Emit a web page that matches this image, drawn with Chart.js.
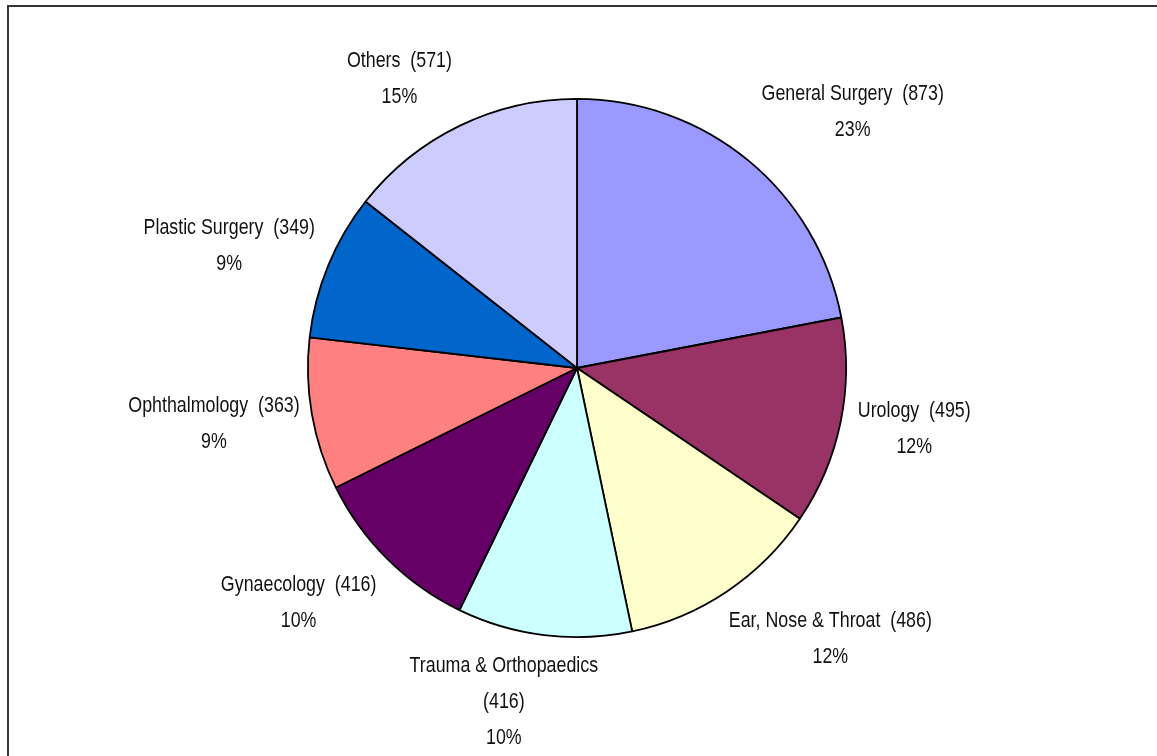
<!DOCTYPE html>
<html>
<head>
<meta charset="utf-8">
<script src="https://cdn.jsdelivr.net/npm/chart.js@4"></script>
<style>
  html,body{margin:0;padding:0;background:#fff;overflow:hidden;}
  #frame{position:absolute;left:7px;top:5px;width:1200px;height:800px;border-left:2px solid #333;border-top:2px solid #333;}
  #pie{position:absolute;left:0;top:0;}
</style>
</head>
<body>
<div id="frame"></div>
<canvas id="pie" width="1157" height="756"></canvas>
<script>
const specialties = ["General Surgery","Urology","Ear, Nose & Throat","Trauma & Orthopaedics","Gynaecology","Ophthalmology","Plastic Surgery","Others"];
const cases = [873,495,486,416,416,363,349,571];
const pctLabels = ["23%","12%","12%","10%","10%","9%","9%","15%"];
const sliceColors = ["#9999FF","#993366","#FFFFCC","#CCFFFF","#660066","#FF8080","#0066CC","#CCCCFF"];

// label text lines (Trauma wraps onto its own line for the count)
const labelLines = specialties.map((s,i)=>{
  const n = "("+cases[i]+")";
  return s==="Trauma & Orthopaedics" ? [s, n, pctLabels[i]] : [s+"  "+n, pctLabels[i]];
});
// small hand nudges, excel "best fit" isn't purely radial
const nudge = [[27,-6],[-11,-5],[30,1],[-25,-7],[-13,4],[16,0],[8,2],[-24,3]];

const SQUEEZE = 0.81; // fake a narrow face
const labelPlugin = {
  id:"sliceLabels",
  afterDatasetsDraw(chart){
    const c = chart.ctx;
    const arcs = chart.getDatasetMeta(0).data;
    c.save();
    c.font = "22px 'Liberation Sans',Arial,sans-serif";
    c.fillStyle = "#111";
    c.textAlign = "center";
    c.textBaseline = "middle";
    const lh = 36, gap = 30;
    arcs.forEach((a,i)=>{
      const mid = (a.startAngle + a.endAngle)/2;
      const ux = Math.cos(mid), uy = Math.sin(mid);
      const lines = labelLines[i];
      const w = Math.max(...lines.map(t=>c.measureText(t).width))*SQUEEZE;
      const h = (lines.length-1)*lh + 16;
      const cx = a.x + (a.outerRadius+gap)*ux + ux*w/2 + nudge[i][0];
      const cy = a.y + (a.outerRadius+gap)*uy + uy*h/2 + nudge[i][1];
      lines.forEach((t,k)=>{
        c.save();
        c.translate(cx, cy - (lines.length-1)*lh/2 + k*lh);
        c.scale(SQUEEZE,1);
        c.fillText(t, 0, 0);
        c.restore();
      });
    });
    c.restore();
  }
};

new Chart(document.getElementById("pie"),{
  type:"pie",
  data:{
    labels:specialties,
    datasets:[{
      data:cases,
      backgroundColor:sliceColors,
      borderColor:"#000",
      borderWidth:1.8,
      hoverOffset:0
    }]
  },
  options:{
    responsive:false,
    animation:false,
    layout:{padding:{top:98,bottom:118,left:0,right:3}},
    plugins:{legend:{display:false},tooltip:{enabled:false}}
  },
  plugins:[labelPlugin]
});
</script>
</body>
</html>
